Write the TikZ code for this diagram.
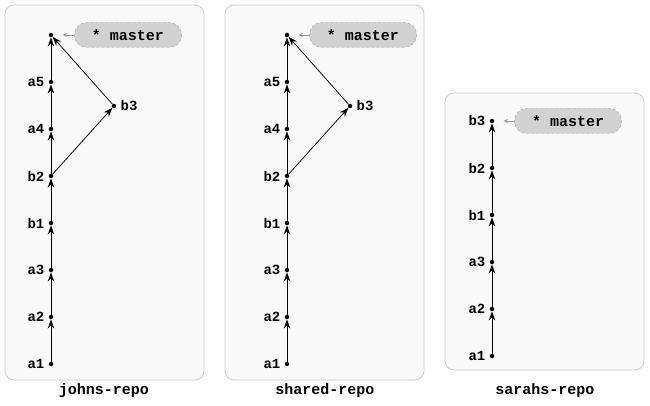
\documentclass[tikz,border=0pt]{standalone}
\usepackage{fontspec}
\setmonofont{Liberation Mono}
\usetikzlibrary{arrows.meta,shapes.misc,positioning}
\tikzset{
    repo/.style={
        draw=gray!40,
        fill=gray!5,
        line width=0.8pt,
        rounded corners=9pt,
    },
    commit/.style={
        circle,
        fill=black,
        inner sep=0pt,
        minimum size=4.5pt,
    },
    branch/.style={
        rounded rectangle,
        densely dashed,
        draw=gray!75,
        fill=gray!35,
        minimum width=114pt,
        minimum height=25pt,
        font=\ttfamily\bfseries\fontsize{15}{17}\selectfont,
    },
    reponame/.style={
        font=\ttfamily\bfseries\fontsize{15}{17}\selectfont,
    },
    ref/.style={
        draw=gray!80,
        -{Stealth[length=4.5pt,width=4pt]},
        semithick,
        shorten >=9pt,
    },
    every label/.style={
        font=\ttfamily\bfseries\fontsize{14}{16}\selectfont,
        inner sep=1pt,
    },
    every edge/.style={
        draw,
        -{Stealth[length=9pt,width=6.5pt,inset=3pt]},
        line width=0.75pt,
    },
    label distance=3pt,
    node distance=47pt,
}
\begin{document}
\begin{tikzpicture}[x=1pt,y=-1pt]
    \useasboundingbox (0,0) rectangle (650,406);

    % johns-repo
    \draw [repo] (5,5) rectangle (204,380);
    \node [reponame] (johns) at (104,391) {johns-repo};
    \node [commit, label=left:a1] (ja1) at (51,364) {};
    \node [commit, label=left:a2, above of=ja1] (ja2) {};
    \node [commit, label=left:a3, above of=ja2] (ja3) {};
    \node [commit, label=left:b1, above of=ja3] (jb1) {};
    \node [commit, label=left:b2, above of=jb1] (jb2) {};
    \node [commit, label=left:a4, above of=jb2] (ja4) {};
    \node [commit, label=left:a5, above of=ja4] (ja5) {};
    \node [commit, above of=ja5] (jm) {};
    \node [commit, label=right:b3] (jb3) at (114,106) {};
    \node [branch] (jmaster) at (128,35) {* master};

    \draw (ja1) edge (ja2);
    \draw (ja2) edge (ja3);
    \draw (ja3) edge (jb1);
    \draw (jb1) edge (jb2);
    \draw (jb2) edge (ja4);
    \draw (ja4) edge (ja5);
    \draw (ja5) edge (jm);
    \draw (jb2) edge (jb3);
    \draw (jb3) edge (jm);
    \draw [ref] (jmaster) -- (jm);

    % shared-repo
    \draw [repo] (225,5) rectangle (424,380);
    \node [reponame] (shared) at (325,391) {shared-repo};
    \node [commit, label=left:a1] (sa1) at (287,364) {};
    \node [commit, label=left:a2, above of=sa1] (sa2) {};
    \node [commit, label=left:a3, above of=sa2] (sa3) {};
    \node [commit, label=left:b1, above of=sa3] (sb1) {};
    \node [commit, label=left:b2, above of=sb1] (sb2) {};
    \node [commit, label=left:a4, above of=sb2] (sa4) {};
    \node [commit, label=left:a5, above of=sa4] (sa5) {};
    \node [commit, above of=sa5] (sm) {};
    \node [commit, label=right:b3] (sb3) at (350,106) {};
    \node [branch] (smaster) at (363,35) {* master};

    \draw (sa1) edge (sa2);
    \draw (sa2) edge (sa3);
    \draw (sa3) edge (sb1);
    \draw (sb1) edge (sb2);
    \draw (sb2) edge (sa4);
    \draw (sa4) edge (sa5);
    \draw (sa5) edge (sm);
    \draw (sb2) edge (sb3);
    \draw (sb3) edge (sm);
    \draw [ref] (smaster) -- (sm);

    % sarahs-repo
    \draw [repo] (445,93) rectangle (644,370);
    \node [reponame] (sarahs) at (545,391) {sarahs-repo};
    \node [commit, label=left:a1] (ha1) at (492,356) {};
    \node [commit, label=left:a2, above of=ha1] (ha2) {};
    \node [commit, label=left:a3, above of=ha2] (ha3) {};
    \node [commit, label=left:b1, above of=ha3] (hb1) {};
    \node [commit, label=left:b2, above of=hb1] (hb2) {};
    \node [commit, label=left:b3, above of=hb2] (hb3) {};
    \node [branch] (hmaster) at (568,121) {* master};

    \draw (ha1) edge (ha2);
    \draw (ha2) edge (ha3);
    \draw (ha3) edge (hb1);
    \draw (hb1) edge (hb2);
    \draw (hb2) edge (hb3);
    \draw [ref] (hmaster) -- (hb3);
\end{tikzpicture}
\end{document}
